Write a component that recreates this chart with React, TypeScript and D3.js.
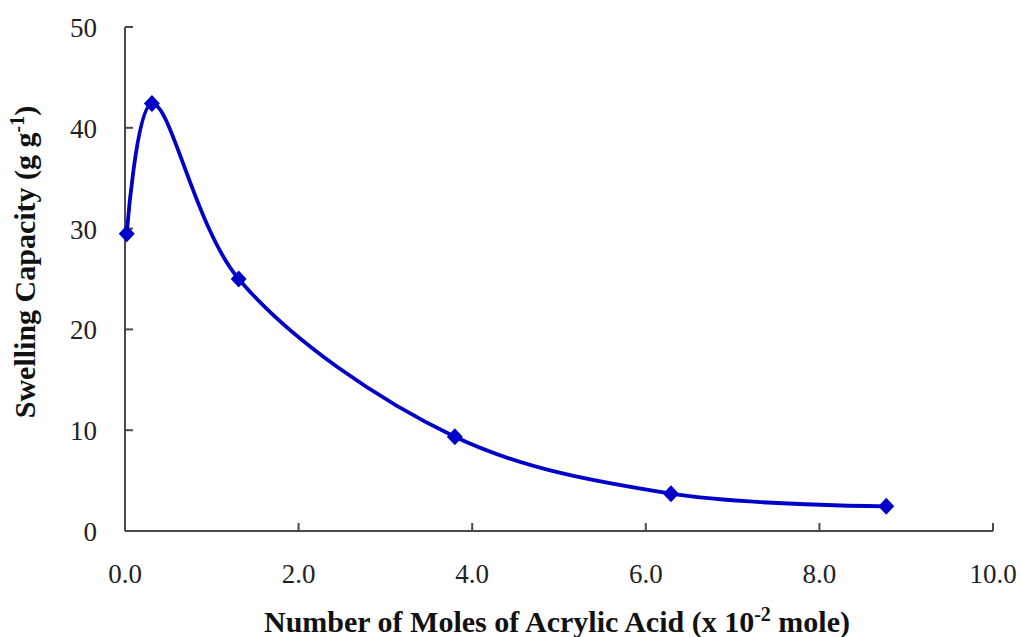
import React from 'react';
import * as d3 from 'd3';

const moles = [0.02, 0.31, 1.31, 3.8, 6.29, 8.77];
const swelling = [29.5, 42.4, 25.0, 9.35, 3.7, 2.45];
const xTicks = [0, 2, 4, 6, 8, 10];
const yTicks = [0, 10, 20, 30, 40, 50];

const App = () => {
  const width = 1021;
  const height = 637;
  const margin = { top: 27, right: 28, bottom: 106, left: 125 };

  const x = d3.scaleLinear().domain([0, 10]).range([margin.left, width - margin.right]);
  const y = d3.scaleLinear().domain([0, 50]).range([height - margin.bottom, margin.top]);

  const points = moles.map((m, i) => [m, swelling[i]] as [number, number]);
  const line = d3.line<[number, number]>()
    .x(d => x(d[0]))
    .y(d => y(d[1]))
    .curve(d3.curveCatmullRom.alpha(0.5));

  const axisColor = '#4a4a4a';
  const blue = '#0000c8';
  const font = '"Liberation Serif", "Times New Roman", serif';
  const x0 = x(0);
  const y0 = y(0);
  // diamond marker, roughly square rotated 45deg
  const diamond = 'M0,-8.5L8,0L0,8.5L-8,0Z';

  return (
    <svg width={width} height={height} style={{ position: 'absolute', left: 0, top: 0, background: '#fff' }}>
      {/* axes */}
      <line x1={x0} x2={x(10)} y1={y0} y2={y0} stroke={axisColor} strokeWidth={2} />
      <line x1={x0} x2={x0} y1={y0} y2={y(50)} stroke={axisColor} strokeWidth={2} />
      {yTicks.map(t => (
        <g key={'y' + t}>
          <line x1={x0} x2={x0 + 8} y1={y(t)} y2={y(t)} stroke={axisColor} strokeWidth={2} />
          <text x={97} y={y(t) + 10} textAnchor="end" fontFamily={font} fontSize={27} fill="#222">{t}</text>
        </g>
      ))}
      {xTicks.map(t => (
        <g key={'x' + t}>
          {t > 0 && <line x1={x(t)} x2={x(t)} y1={y0} y2={y0 - 8} stroke={axisColor} strokeWidth={2} />}
          <text x={x(t)} y={583} textAnchor="middle" fontFamily={font} fontSize={27} fill="#222">{t.toFixed(1)}</text>
        </g>
      ))}

      {/* series */}
      <path d={line(points) || ''} fill="none" stroke={blue} strokeWidth={3.8} />
      {points.map((p, i) => (
        <path key={i} d={diamond} transform={`translate(${x(p[0])},${y(p[1])})`} fill={blue} />
      ))}

      {/* titles */}
      <text x={557} y={632} textAnchor="middle" fontFamily={font} fontSize={30} fontWeight="bold" fill="#111">
        Number of Moles of Acrylic Acid (x 10<tspan dy={-11} fontSize={20}>-2</tspan><tspan dy={11}> mole)</tspan>
      </text>
      <text transform={`translate(35,262) rotate(-90)`} textAnchor="middle" fontFamily={font} fontSize={30} fontWeight="bold" fill="#111">
        Swelling Capacity (g g<tspan dy={-11} fontSize={20}>-1</tspan><tspan dy={11}>)</tspan>
      </text>
    </svg>
  );
};

export default App;
